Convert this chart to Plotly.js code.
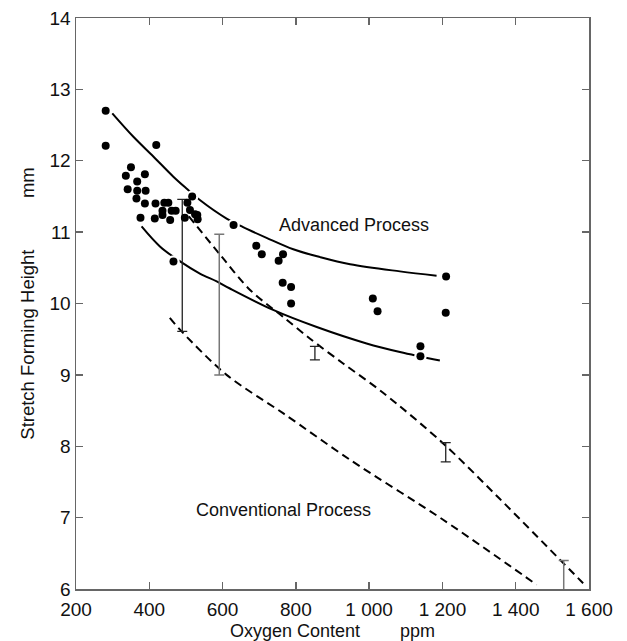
<!DOCTYPE html>
<html>
<head>
<meta charset="utf-8">
<script src="https://cdn.plot.ly/plotly-3.0.1.min.js"></script>
<style>html,body{margin:0;padding:0;background:#fff;}#chart{width:627px;height:641px;}</style>
</head>
<body>
<div id="chart"></div>
<script>
// Measured points
const oxygen = [281,281,419,350,336,388,367,341,367,390,365,388,417,441,452,436,436,461,472,376,415,457,497,517,504,511,525,531,532,466,630,692,707,753,765,764,787,787,1210,1010,1023,1209,1140,1140];
const height = [12.70,12.21,12.22,11.91,11.79,11.81,11.71,11.60,11.58,11.58,11.47,11.40,11.40,11.41,11.41,11.30,11.24,11.30,11.30,11.20,11.19,11.17,11.20,11.50,11.41,11.31,11.25,11.24,11.18,10.59,11.10,10.81,10.69,10.60,10.69,10.29,10.23,10.00,10.38,10.07,9.89,9.87,9.40,9.26];

// Advanced process band (solid curves)
const advUpperX = [299,356,411,465,504,538,611,656,720,793,866,948,1084,1184];
const advUpperY = [12.665,12.34,12.06,11.78,11.60,11.45,11.19,11.07,10.92,10.76,10.65,10.55,10.45,10.39];
const advLowerX = [379,429,484,538,584,620,738,857,993,1084,1193];
const advLowerY = [11.08,10.80,10.59,10.42,10.31,10.21,9.91,9.67,9.44,9.32,9.20];

// Conventional process band (dashed curves)
const convUpperX = [508,597,675,766,838,929,1038,1202,1357,1584];
const convUpperY = [11.22,10.66,10.19,9.81,9.51,9.16,8.75,8.04,7.26,6.08];
const convLowerX = [456,488,611,766,948,1202,1457];
const convLowerY = [9.80,9.61,9.00,8.46,7.81,6.97,6.06];

// Scatter ranges (error bars)
const barX      = [490, 852, 1209];
const barTop    = [11.46, 9.40, 8.05];
const barBottom = [9.61, 9.21, 7.78];
const barX2      = [591, 1531];
const barTop2    = [10.97, 6.40];
const barBottom2 = [9.00, 5.9];

// Axis ticks
const xTickVals = [200,400,600,800,1000,1200,1400,1600];
const xTickText = ['200','400','600','800','1\u00a0000','1\u00a0200','1\u00a0400','1\u00a0600'];
const yTickVals = [6,7,8,9,10,11,12,13,14];
const yTickText = ['6','7','8','9','10','11','12','13','14'];

const NB = '\u00a0';
const solid = {color:'#000', width:2, shape:'spline', smoothing:1};
const dashed = {color:'#000', width:2, dash:'8px,5px', shape:'spline', smoothing:0.9};

const traces = [
  {x:advUpperX, y:advUpperY, mode:'lines', line:solid, hoverinfo:'skip'},
  {x:advLowerX, y:advLowerY, mode:'lines', line:solid, hoverinfo:'skip'},
  {x:oxygen, y:height, mode:'markers', marker:{color:'#fff', size:12.5}, hoverinfo:'skip'},
  {x:convUpperX, y:convUpperY, mode:'lines', line:dashed, hoverinfo:'skip'},
  {x:convLowerX, y:convLowerY, mode:'lines', line:dashed, hoverinfo:'skip'},
  {x:barX, y:barBottom, mode:'markers', marker:{size:1, opacity:0},
   error_y:{type:'data', symmetric:false, array:barTop.map((t,i)=>t-barBottom[i]), arrayminus:barX.map(()=>0), color:'#222', thickness:1.3, width:5}},
  {x:barX2, y:barBottom2, mode:'markers', marker:{size:1, opacity:0},
   error_y:{type:'data', symmetric:false, array:barTop2.map((t,i)=>t-barBottom2[i]), arrayminus:barX2.map(()=>0), color:'#777', thickness:1.5, width:5}},
  {x:oxygen, y:height, mode:'markers', marker:{color:'#000', size:8}}
];

const axisCommon = {
  showgrid:false, zeroline:false, showline:true, linecolor:'#666', linewidth:1.5,
  ticks:'inside', ticklen:7, tickwidth:1.3, tickcolor:'#666', mirror:'ticks',
  tickfont:{family:'Arial, Liberation Sans, sans-serif', size:19, color:'#111'}
};

const layout = {
  width:627, height:641,
  margin:{l:76, r:38, t:18, b:52},
  paper_bgcolor:'#fff', plot_bgcolor:'#fff',
  showlegend:false,
  font:{family:'Arial, Liberation Sans, sans-serif', color:'#111'},
  xaxis:Object.assign({}, axisCommon, {
    range:[200,1600], tickvals:xTickVals, ticktext:xTickText, ticklabelstandoff:3,
    title:{text:'Oxygen Content' + NB.repeat(8) + 'ppm', font:{size:18, color:'#111'}, standoff:5}
  }),
  yaxis:Object.assign({}, axisCommon, {
    range:[6,14], tickvals:yTickVals, ticktext:yTickText,
    title:{text:NB.repeat(2) + 'Stretch Forming Height' + NB.repeat(10) + 'mm', font:{size:18.5, color:'#111'}, standoff:10}
  }),
  annotations:[
    {x:958, y:11.10, xref:'x', yref:'y', text:'Advanced Process', showarrow:false, xanchor:'center', yanchor:'middle', font:{size:18, color:'#111'}},
    {x:766, y:7.10, xref:'x', yref:'y', text:'Conventional Process', showarrow:false, xanchor:'center', yanchor:'middle', font:{size:18, color:'#111'}}
  ]
};

Plotly.newPlot('chart', traces, layout, {staticPlot:true, displayModeBar:false});
</script>
</body>
</html>
